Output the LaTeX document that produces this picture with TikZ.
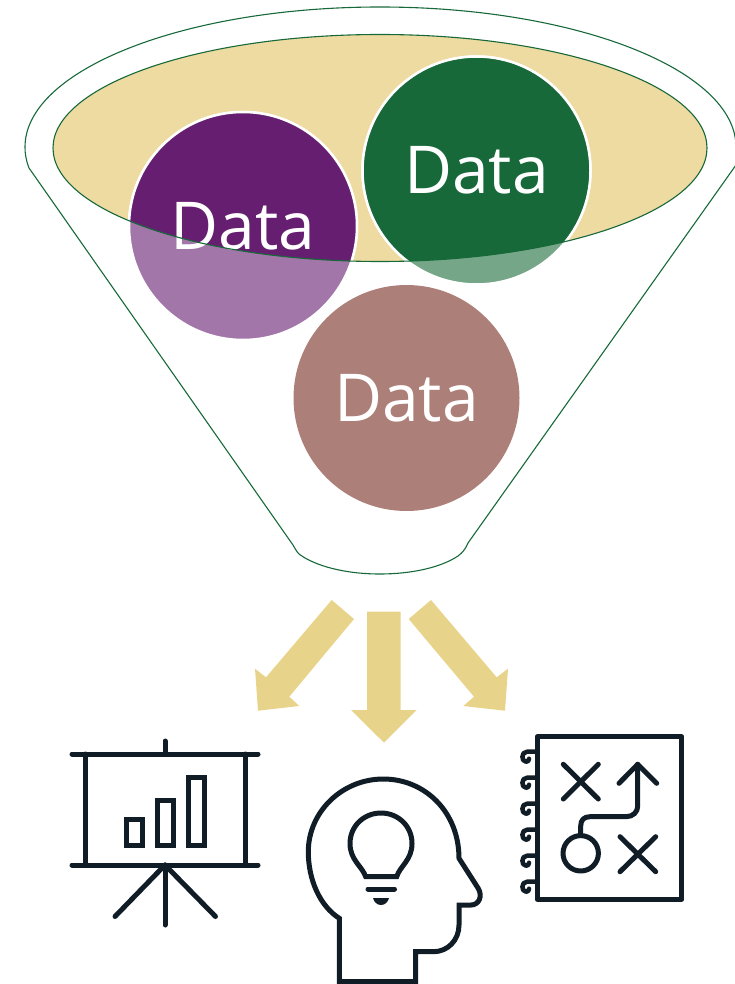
\documentclass[tikz,border=0pt]{standalone}
\usepackage{fontspec}
\setmainfont{Open Sans}
\definecolor{funnelgreen}{HTML}{17693A}
\definecolor{fadegreen}{HTML}{75A688}
\definecolor{darkpurple}{HTML}{661F70}
\definecolor{fadepurple}{HTML}{A276A9}
\definecolor{rosebrown}{HTML}{AD7F79}
\definecolor{bowltan}{HTML}{EDDBA1}
\definecolor{arrowtan}{HTML}{E8D38A}
\definecolor{iconink}{HTML}{111D26}
\tikzset{
  datadisc/.style={circle,draw=white,line width=2.5pt,minimum size=228pt,inner sep=0pt},
  datatext/.style={text=white,inner sep=0pt,font=\fontsize{66}{66}\selectfont},
  funnelline/.style={draw=funnelgreen,line width=1.1pt},
  flowarrow/.style={fill=arrowtan},
  iconline/.style={draw=iconink,line width=5pt,line cap=round,line join=round},
}
\begin{document}
\begin{tikzpicture}[x=1pt,y=-1pt]
\useasboundingbox (0,0) rectangle (735,984);

\draw[funnelline] (29,168) .. controls (26,160) and (25,154) .. (25,147)
  .. controls (25,70) and (184,7) .. (380,7)
  .. controls (576,7) and (736,70) .. (736,147) -- (736,165)
  -- (468,543) .. controls (465,550) and (462,553) .. (458,556)
  .. controls (440,568) and (410,574) .. (380,574)
  .. controls (345,574) and (315,566) .. (299,554)
  .. controls (296,551) and (295,548) .. (293,545) -- cycle;

\fill[bowltan] (380,148) ellipse [x radius=327,y radius=113.5];

% lower parts first, the bowl keeps the strong colours
\node[datadisc,fill=fadepurple] (purpledisc) at (243,226) {};
\node[datadisc,fill=fadegreen] (greendisc) at (476.5,170.5) {};
\begin{scope}
\clip (380,148) ellipse [x radius=327,y radius=113.5];
\node[datadisc,fill=darkpurple] (purpletop) at (243,226) {};
\node[datadisc,fill=funnelgreen] (greentop) at (476.5,170.5) {};
\end{scope}
\node[datadisc,fill=rosebrown,draw=none,minimum size=226pt] (browndisc) at (406.5,398) {};

\node[datatext] (purpledata) at (243,226) {Data};
\node[datatext] (greendata) at (476.5,170.5) {Data};
\node[datatext] (browndata) at (406.5,398) {Data};

\draw[funnelline] (380,148) ellipse [x radius=327,y radius=113.5];

\fill[flowarrow] (331.7,600)--(354,619)--(289.3,696.7)--(299.3,706)--(258,710.7)--(255,668.7)--(266,677.3)--cycle;
\fill[flowarrow] (367,611.7)--(400.7,611.7)--(400.7,710)--(416.7,710)--(384,742.7)--(351,710)--(367,710)--cycle;
\fill[flowarrow] (431,600)--(408.7,619)--(474,696.7)--(463.3,706)--(505,710.7)--(508,668.7)--(496.7,677.3)--cycle;

% board
\draw[iconline] (72,754)--(258,754);
\draw[iconline] (72,865)--(258,865);
\draw[iconline] (85,754)--(85,865);
\draw[iconline] (245,754)--(245,865);
\draw[iconline] (165,741)--(165,754);
\draw[iconline] (165,865)--(165,925);
\draw[iconline] (165,865)--(115,916.5);
\draw[iconline] (165,865)--(215.5,916.5);
\draw[iconline,line cap=butt,line join=miter] (126.3,819) rectangle (142,845);
\draw[iconline,line cap=butt,line join=miter] (157.3,800.7) rectangle (173,845);
\draw[iconline,line cap=butt,line join=miter] (188.3,777) rectangle (204,845);

% head
\draw[iconline,line cap=butt,line join=miter] (339.3,918.3)
  .. controls (320,906) and (308.3,880) .. (308.3,851.7)
  .. controls (308.3,812) and (342,779) .. (383.3,779)
  .. controls (425,779) and (459,812) .. (459,858.3)
  -- (478,888) .. controls (483,896) and (479,905) .. (471,905)
  -- (459,905) -- (459,925)
  .. controls (459,940) and (448,951.7) .. (433.3,951.7)
  -- (415.7,951.7) -- (415.7,981.5) -- (339.3,981.5) -- cycle;
\draw[iconline,line cap=butt,line join=miter] (365.7,876.7)
  .. controls (362,866) and (350,860) .. (350,843.5)
  .. controls (350,826) and (364,813) .. (381,813)
  .. controls (398,813) and (412,826) .. (412,843.5)
  .. controls (412,860) and (400,866) .. (396.7,876.7) -- cycle;
\draw[iconline] (368,889)--(394.5,889);
\fill[iconink] (373,898) -- (389,898) .. controls (388,902) and (385,905) .. (381,905) .. controls (377,905) and (374,902) .. (373,898) -- cycle;

% plan
\draw[iconline] (537.3,736.7) rectangle (681.7,899.3);
\foreach \y in {751.7,777.7,803.7,829.7,855.7,881.7}{
  \draw[iconline,line width=4.5pt] (537,\y) -- (527,\y) .. controls (521,\y) and (521,\y+10) .. (526,\y+10) .. controls (528,\y+10) and (529,\y+9) .. (529,\y+7);}
\draw[iconline] (563.3,764.3)--(598.3,799);
\draw[iconline] (563.3,799)--(598.3,764.3);
\draw[iconline] (620,836.7)--(655.7,871.7);
\draw[iconline] (620,871.7)--(655.7,836.7);
\draw[iconline] (580.7,853.3) circle [radius=17.7];
\draw[iconline] (580.7,835) -- (580.7,826) .. controls (580.7,820) and (584,816.7) .. (590,816.7)
  -- (626,816.7) .. controls (633,816.7) and (637.7,812) .. (637.7,806) -- (637.7,764.3);
\draw[iconline] (619,783.3)--(637.7,764.3)--(656.7,783.3);
\end{tikzpicture}
\end{document}
